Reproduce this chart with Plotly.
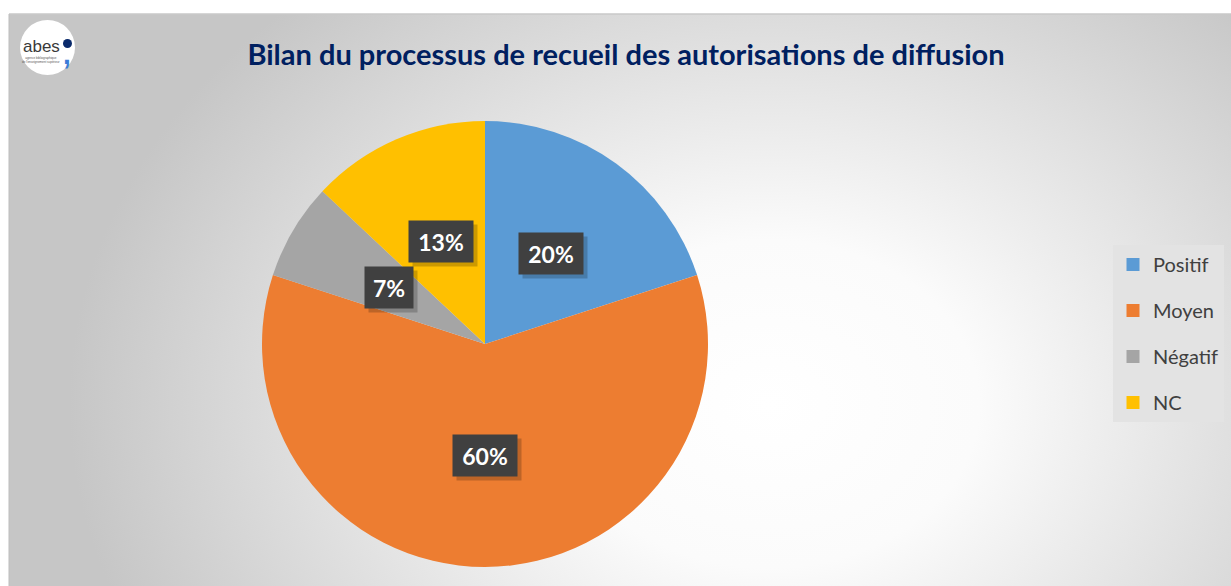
import math
import base64
import plotly.graph_objects as go

# ---- data ----
labels = ["Positif", "Moyen", "Négatif", "NC"]
values = [20, 60, 7, 13]
colors = ["#5B9BD5", "#ED7D31", "#A5A5A5", "#FFC000"]
title_text = "Bilan du processus de recueil des autorisations de diffusion"

W, H = 1231, 586

# ---- background (radial gradient) ----
svg = (
    '<svg xmlns="http://www.w3.org/2000/svg" width="1222" height="572" viewBox="0 0 1222 572">'
    '<defs><radialGradient id="g" gradientUnits="userSpaceOnUse" cx="760" cy="390" r="700" '
    'gradientTransform="translate(760 390) scale(1 0.78) translate(-760 -390)">'
    '<stop offset="0" stop-color="#ffffff"/>'
    '<stop offset="0.3" stop-color="#fbfbfb"/>'
    '<stop offset="1" stop-color="#c6c6c6"/>'
    '</radialGradient></defs>'
    '<rect x="0" y="0" width="1222" height="572" fill="url(#g)"/></svg>'
)
bg_src = "data:image/svg+xml;base64," + base64.b64encode(svg.encode()).decode()

# ---- pie geometry (pixels) ----
px_x0, px_x1, px_top, px_bot = 261, 709, 121, 567
cx, cy = (px_x0 + px_x1) / 2, (px_top + px_bot) / 2
radius = min(px_x1 - px_x0, px_bot - px_top) / 2

fig = go.Figure()
fig.add_trace(go.Pie(
    labels=labels, values=values, sort=False, direction="clockwise", rotation=0,
    marker=dict(colors=colors, line=dict(width=0)),
    textinfo="none", hoverinfo="label+percent", showlegend=False,
    domain=dict(x=[px_x0 / W, px_x1 / W], y=[1 - px_bot / H, 1 - px_top / H]),
))

# legend entries
for lab, col in zip(labels, colors):
    fig.add_trace(go.Scatter(
        x=[None], y=[None], mode="markers", name=lab, legendgroup=lab,
        marker=dict(symbol="square", size=13, color=col),
    ))

# data labels
total = sum(values)
annotations = []
cum = 0
for v in values:
    theta = (cum + v / 2) / total * 2 * math.pi
    cum += v
    lx = cx + 0.5 * radius * math.sin(theta)
    ly = cy - 0.5 * radius * math.cos(theta)
    txt = f"{round(100 * v / total)}%"
    w = 16 * len(txt)
    common = dict(x=lx / W, y=1 - ly / H, xref="paper", yref="paper", showarrow=False,
                  width=w, height=25, borderpad=8, align="center",
                  xanchor="center", yanchor="middle")
    annotations.append(dict(**common, text="&nbsp;", bgcolor="rgba(0,0,0,0.2)", xshift=4, yshift=-4,
                            font=dict(family="Lato", size=22, color="rgba(0,0,0,0)")))
    annotations.append(dict(**common, text=txt, bgcolor="#404040",
                            font=dict(family="Lato", size=23, color="white", weight="bold")))

# logo
annotations.append(dict(x=41 / W, y=1 - 46 / H, xref="paper", yref="paper", showarrow=False,
                        text="abes", font=dict(family="Liberation Sans", size=17, color="#3a3a3a"),
                        xanchor="center", yanchor="middle"))
annotations.append(dict(x=41 / W, y=1 - 60 / H, xref="paper", yref="paper", showarrow=False,
                        text="agence bibliographique<br>de l'enseignement supérieur",
                        font=dict(family="Liberation Sans", size=3, color="#555555"),
                        xanchor="center", yanchor="middle"))
annotations.append(dict(x=67 / W, y=1 - 55 / H, xref="paper", yref="paper", showarrow=False,
                        text="<b>,</b>", font=dict(family="Liberation Sans", size=28, color="#3b7dd8"),
                        xanchor="center", yanchor="middle"))

shapes = [
    dict(type="line", xref="paper", yref="paper", x0=9 / W, x1=1, y0=1 - 14 / H, y1=1 - 14 / H,
         line=dict(color="#c8c8c8", width=1.5)),
    dict(type="line", xref="paper", yref="paper", x0=9 / W, x1=9 / W, y0=0, y1=1 - 14 / H,
         line=dict(color="#bdbdbd", width=1)),
    dict(type="circle", xref="paper", yref="paper", x0=20 / W, x1=75 / W,
         y0=1 - 75 / H, y1=1 - 20 / H, fillcolor="white", line=dict(width=0)),
    dict(type="circle", xref="paper", yref="paper", x0=63 / W, x1=72 / W,
         y0=1 - 48 / H, y1=1 - 39 / H, fillcolor="#0a2a6b", line=dict(width=0)),
]

fig.update_layout(
    width=W, height=H, autosize=False,
    margin=dict(l=0, r=0, t=0, b=0),
    paper_bgcolor="white", plot_bgcolor="rgba(0,0,0,0)",
    title=dict(text=title_text, x=626 / W, xanchor="center", y=1 - 55 / H, yanchor="middle",
               font=dict(family="Lato", size=29, color="#002060", weight="bold")),
    xaxis=dict(visible=False), yaxis=dict(visible=False),
    legend=dict(x=1113 / W, y=1 - 245 / H, xanchor="left", yanchor="top",
                bgcolor="#e3e3e3", font=dict(family="Lato", size=20, color="#404040"),
                tracegroupgap=17, itemwidth=30, borderwidth=0),
    images=[dict(source=bg_src, xref="paper", yref="paper", x=9 / W, y=1 - 14 / H,
                 sizex=(W - 9) / W, sizey=(H - 14) / H, xanchor="left", yanchor="top",
                 sizing="stretch", layer="below")],
    annotations=annotations, shapes=shapes,
)

fig.write_html("out.html", config={"displayModeBar": False},
               post_script="document.body.style.margin='0';document.body.style.overflow='hidden';")
